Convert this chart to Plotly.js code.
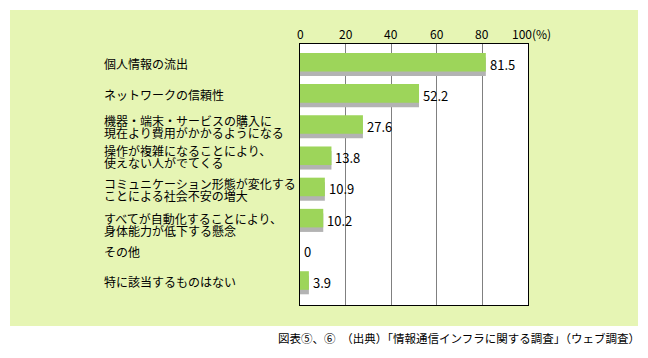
<!DOCTYPE html>
<html>
<head>
<meta charset="utf-8">
<script src="https://cdn.plot.ly/plotly-3.0.1.min.js"></script>
<style>html,body{margin:0;padding:0;background:#fff;}#chart{width:648px;height:358px;}</style>
</head>
<body>
<div id="chart"></div>
<script>
// ---- data ----
var categories = [
  "個人情報の流出",
  "ネットワークの信頼性",
  "機器・端末・サービスの購入に<br>現在より費用がかかるようになる",
  "操作が複雑になることにより、<br>使えない人がでてくる",
  "コミュニケーション形態が変化する<br>ことによる社会不安の増大",
  "すべてが自動化することにより、<br>身体能力が低下する懸念",
  "その他",
  "特に該当するものはない"
];
var values = [81.5, 52.2, 27.6, 13.8, 10.9, 10.2, 0, 3.9];
var valueLabels = ["81.5", "52.2", "27.6", "13.8", "10.9", "10.2", "0", "3.9"];
var tickVals = [0, 20, 40, 60, 80, 100];
var tickLabels = ["0", "20", "40", "60", "80", "100(%)"];
var sourceNote = "図表⑤、⑥　（出典）「情報通信インフラに関する調査」（ウェブ調査）";

// ---- layout helpers ----
var W = 648, H = 358;
var mL = 300, mR = 120, mT = 44, mB = 53;
var plotW = W - mL - mR, plotH = H - mT - mB;
var FONT = '"Noto Sans CJK JP", "Noto Sans", sans-serif';
var GREEN = '#9dd55a', SHADOW = '#b3b3b3', BG = '#e6f5b4';
var barW = 0.595, shadowOff = 0.145;
var labelShift = [1.6, 1.1, 2.4, 1.2, 2.9, 6.4, 1.7, 0.8]; // px, downward
var lineGap = 12;

var idx = categories.map(function (_, i) { return i; });

var shadowTrace = {
  type: 'bar', orientation: 'h', x: values, y: idx,
  width: barW, offset: -barW / 2 + shadowOff,
  marker: { color: SHADOW, line: { width: 0 } },
  hoverinfo: 'skip', showlegend: false
};
var barTrace = {
  type: 'bar', orientation: 'h', x: values, y: idx,
  width: barW, offset: -barW / 2,
  marker: { color: GREEN, line: { width: 0 } },
  hoverinfo: 'skip', showlegend: false
};

function px2paperX(p) { return (p - mL) / plotW; }
function px2paperY(p) { return (H - mB - p) / plotH; }

var annotations = [];
categories.forEach(function (c, i) {
  var lines = c.split('<br>');
  var n = lines.length;
  lines.forEach(function (ln, k) {
    var off = labelShift[i] + (k - (n - 1) / 2) * lineGap;
    annotations.push({
      xref: 'paper', x: px2paperX(104), xanchor: 'left',
      yref: 'y', y: i, yanchor: 'middle', yshift: -off,
      text: ln, showarrow: false, align: 'left', borderpad: 0, borderwidth: 0,
      font: { family: FONT, size: 12, color: '#000' }
    });
  });
});
values.forEach(function (v, i) {
  annotations.push({
    xref: 'x', x: v, xanchor: 'left', xshift: 4,
    yref: 'y', y: i, yanchor: 'middle', yshift: -2,
    text: valueLabels[i], showarrow: false, borderpad: 0, borderwidth: 0,
    font: { family: FONT, size: 13, color: '#000' }
  });
});
// tick labels along the top
tickVals.forEach(function (t, k) {
  var last = (k === tickVals.length - 1);
  annotations.push({
    xref: 'x', x: t, xanchor: last ? 'left' : 'center', xshift: last ? -16 : 0,
    yref: 'paper', y: px2paperY(33.7), yanchor: 'middle',
    text: tickLabels[k], showarrow: false, borderpad: 0, borderwidth: 0,
    font: { family: FONT, size: 12, color: '#000' }
  });
});
annotations.push({
  xref: 'paper', x: px2paperX(640), xanchor: 'right',
  yref: 'paper', y: px2paperY(338), yanchor: 'middle',
  text: sourceNote, showarrow: false, borderpad: 0, borderwidth: 0,
  font: { family: FONT, size: 11.5, color: '#000' }
});

var layout = {
  width: W, height: H,
  margin: { l: mL, r: mR, t: mT, b: mB, pad: 0 },
  paper_bgcolor: '#ffffff', plot_bgcolor: '#ffffff',
  barmode: 'overlay', showlegend: false,
  font: { family: FONT, size: 12, color: '#000' },
  xaxis: {
    range: [0, 100], side: 'top', fixedrange: true,
    tickvals: tickVals, showticklabels: false, ticks: '',
    showgrid: true, gridcolor: '#808080', gridwidth: 1,
    zeroline: false, showline: true, mirror: true, linecolor: '#000', linewidth: 1
  },
  yaxis: {
    range: [7 + (H - mB - 280.5) / 31.19, -(62.2 - mT) / 31.19], fixedrange: true,
    showticklabels: false, ticks: '', showgrid: false, zeroline: false,
    showline: true, mirror: true, linecolor: '#000', linewidth: 1
  },
  shapes: [
    { type: 'rect', layer: 'below', xref: 'paper', yref: 'paper',
      x0: px2paperX(10), x1: px2paperX(638), y0: px2paperY(326), y1: px2paperY(10),
      fillcolor: BG, line: { width: 0 } },
    { type: 'rect', layer: 'below', xref: 'paper', yref: 'paper',
      x0: 0, x1: 1, y0: 0, y1: 1,
      fillcolor: '#ffffff', line: { width: 0 } }
  ],
  annotations: annotations
};

Plotly.newPlot('chart', [shadowTrace, barTrace], layout, { staticPlot: true, displayModeBar: false });
</script>
</body>
</html>
